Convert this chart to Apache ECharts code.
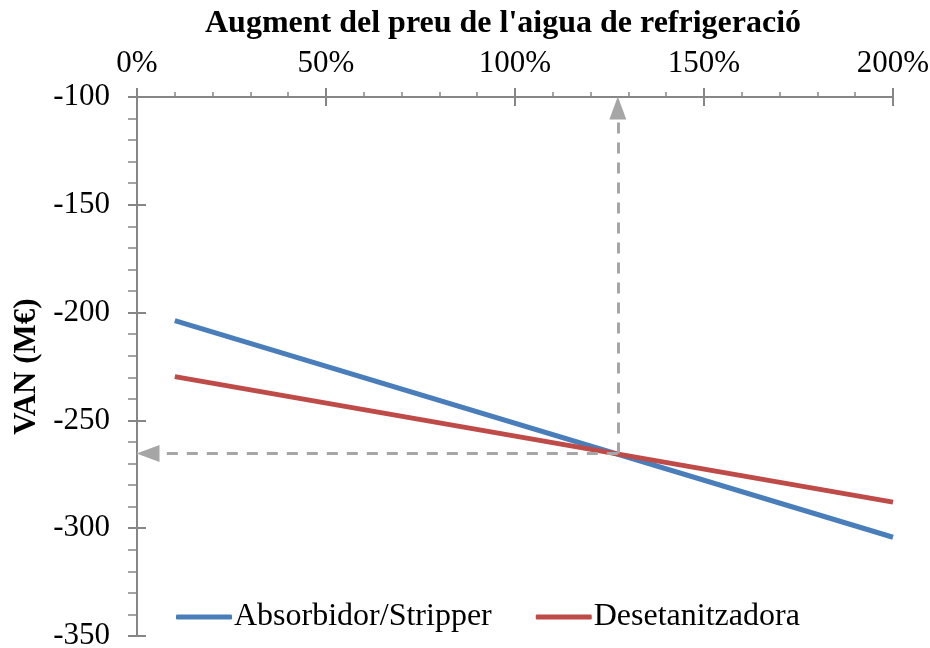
<!DOCTYPE html>
<html>
<head>
<meta charset="utf-8">
<script src="https://cdn.jsdelivr.net/npm/echarts@6/dist/echarts.min.js"></script>
<style>
  html, body { margin: 0; padding: 0; background: #fff; }
  #chart { width: 930px; height: 648px; }
</style>
</head>
<body>
<div id="chart"></div>
<script>
// percentage increase of cooling water price
const xValues = [10, 200]
const absorbidor = [-203.7, -304.2]
const desetanitzadora = [-229.7, -287.9]
// crossing point (break-even)
const crossX = 127.2
const crossY = -265.3

const seriesNames = ['Absorbidor/Stripper', 'Desetanitzadora']
const colors = ['#4a7ebb', '#be4b48']

const font = 'Liberation Serif'
const axisGray = '#868686'
const dashGray = '#a6a6a6'

const chart = echarts.init(document.getElementById('chart'))

// arrow head whose tip sits on the axis
const arrowEnd = { symbol: 'triangle', symbolSize: [17, 23], symbolOffset: [0, 11] }

chart.setOption({
  backgroundColor: '#fff',
  animation: false,
  grid: { left: 137, right: 37, top: 97, bottom: 12, containLabel: false, outerBoundsMode: 'none' },
  legend: {
    data: seriesNames,
    left: 171,
    bottom: 10,
    icon: 'roundRect',
    itemWidth: 56,
    itemHeight: 5,
    itemGap: 44,
    textStyle: { fontFamily: font, fontSize: 32, color: '#000', padding: [0, 0, 0, -3] }
  },
  title: {
    text: "Augment del preu de l'aigua de refrigeració",
    left: 200,
    top: 3,
    textStyle: { fontFamily: font, fontSize: 32, fontWeight: 'bold', color: '#000' }
  },
  xAxis: [
    {
      type: 'value',
      position: 'top',
      min: 0,
      max: 200,
      interval: 50,
      axisLine: { onZero: false, lineStyle: { color: axisGray, width: 2 } },
      axisTick: { show: true, length: 9, lineStyle: { color: axisGray, width: 2 } },
      minorTick: { show: true, splitNumber: 5, length: 5, lineStyle: { color: axisGray, width: 1.5 } },
      splitLine: { show: false },
      axisLabel: {
        formatter: '{value}%',
        fontFamily: font,
        fontSize: 31,
        color: '#000',
        margin: 18
      }
    },
    {
      type: 'value',
      position: 'top',
      min: 0,
      max: 200,
      interval: 50,
      axisLine: { show: false, onZero: false },
      axisTick: { show: true, inside: true, length: 9, lineStyle: { color: axisGray, width: 2 } },
      splitLine: { show: false },
      axisLabel: { show: false }
    }
  ],
  yAxis: [
    {
      type: 'value',
      min: -350,
      max: -100,
      interval: 50,
      name: 'VAN (M€)',
      nameLocation: 'middle',
      nameGap: 90,
      nameTextStyle: { fontFamily: font, fontSize: 31, fontWeight: 'bold', color: '#000' },
      axisLine: { show: true, onZero: false, lineStyle: { color: axisGray, width: 2 } },
      axisTick: { show: true, length: 9, lineStyle: { color: axisGray, width: 2 } },
      minorTick: { show: true, splitNumber: 5, length: 9, lineStyle: { color: axisGray, width: 1.5 } },
      splitLine: { show: false },
      axisLabel: { fontFamily: font, fontSize: 31, color: '#000', margin: 27 }
    },
    {
      type: 'value',
      position: 'left',
      min: -350,
      max: -100,
      interval: 50,
      axisLine: { show: false, onZero: false },
      axisTick: { show: true, inside: true, length: 9, lineStyle: { color: axisGray, width: 2 } },
      splitLine: { show: false },
      axisLabel: { show: false }
    }
  ],
  series: [
    {
      name: seriesNames[0],
      type: 'line',
      data: xValues.map((x, i) => [x, absorbidor[i]]),
      showSymbol: false,
      symbol: 'none',
      z: 3,
      lineStyle: { color: colors[0], width: 5 },
      itemStyle: { color: colors[0] }
    },
    {
      name: seriesNames[1],
      type: 'line',
      data: xValues.map((x, i) => [x, desetanitzadora[i]]),
      showSymbol: false,
      symbol: 'none',
      z: 4,
      lineStyle: { color: colors[1], width: 5 },
      itemStyle: { color: colors[1] },
      markLine: {
        silent: true,
        label: { show: false },
        lineStyle: { color: dashGray, width: 3, type: [11, 9] },
        data: [
          [
            { coord: [crossX, crossY], symbol: 'none' },
            Object.assign({ coord: [crossX, -100] }, arrowEnd)
          ],
          [
            { coord: [crossX, crossY], symbol: 'none' },
            Object.assign({ coord: [0, crossY] }, arrowEnd)
          ]
        ]
      }
    }
  ]
})

window.addEventListener('resize', () => chart.resize())
</script>
</body>
</html>
